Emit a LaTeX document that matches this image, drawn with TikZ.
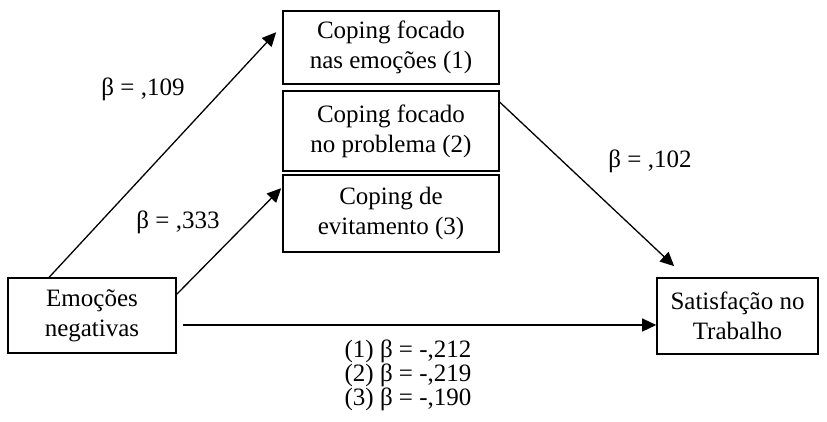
\documentclass[tikz,border=0pt]{standalone}
\usepackage{fontspec}
\setmainfont{Liberation Serif}
\usetikzlibrary{positioning, calc, arrows.meta}

\begin{document}
\begin{tikzpicture}[
  x=1bp, y=-1bp,
  every node/.style={font=\fontsize{25bp}{30bp}\selectfont},
  varbox/.style={draw, line width=1.6bp, rectangle, align=center, inner sep=0pt},
  coefl/.style={align=center, inner sep=0pt},
  arr/.style={line width=1.3bp, -{Triangle[length=14bp, width=13bp]}},
]
  \useasboundingbox (0,0) rectangle (827,421);

  % Mediators (coping strategies)
  \node[varbox, minimum width=216bp, minimum height=73bp] (cemo) at (391,47.5) {Coping focado\\nas emoções (1)};
  \node[varbox, minimum width=216bp, minimum height=80bp] (cprob) at (391,131) {Coping focado\\no problema (2)};
  \node[varbox, minimum width=216bp, minimum height=77bp] (cevit) at (391,213.5) {Coping de\\evitamento (3)};

  % Predictor and outcome
  \node[varbox, minimum width=168bp, minimum height=75bp] (emo) at (92,315.5) {Emoções\\negativas};
  \node[varbox, minimum width=161bp, minimum height=76bp] (sat) at (737.5,316) {Satisfação no\\Trabalho};

  % Connector end points
  \coordinate (emotop) at ($(emo.north west)+(42,0)$);
  \coordinate (emoright) at ($(emo.north east)+(0,17)$);
  \coordinate (emomid) at ($(emo.east)+(6,9.5)$);
  \coordinate (emotip) at ($(cemo.north west)+(-6,22)$);
  \coordinate (evittip) at ($(cevit.north west)+(-1,14)$);
  \coordinate (probright) at ($(cprob.north east)+(0,12)$);
  \coordinate (sattip) at ($(sat.north west)+(18,-11)$);

  \draw[arr] (emotop) -- (emotip);
  \draw[arr] (emoright) -- (evittip);
  \draw[arr] (probright) -- (sattip);
  \draw[arr] (emomid) -- (emomid -| sat.west);

  % Coefficients
  \node[coefl] (b109) at (143,89) {β = ,109};
  \node[coefl] (b333) at (178,222) {β = ,333};
  \node[coefl] (b102) at (650,161) {β = ,102};
  \node[coefl, font=\fontsize{25bp}{24bp}\selectfont] (bdir) at (408,375) {(1) β = -,212\\(2) β = -,219\\(3) β = -,190};
\end{tikzpicture}
\end{document}
